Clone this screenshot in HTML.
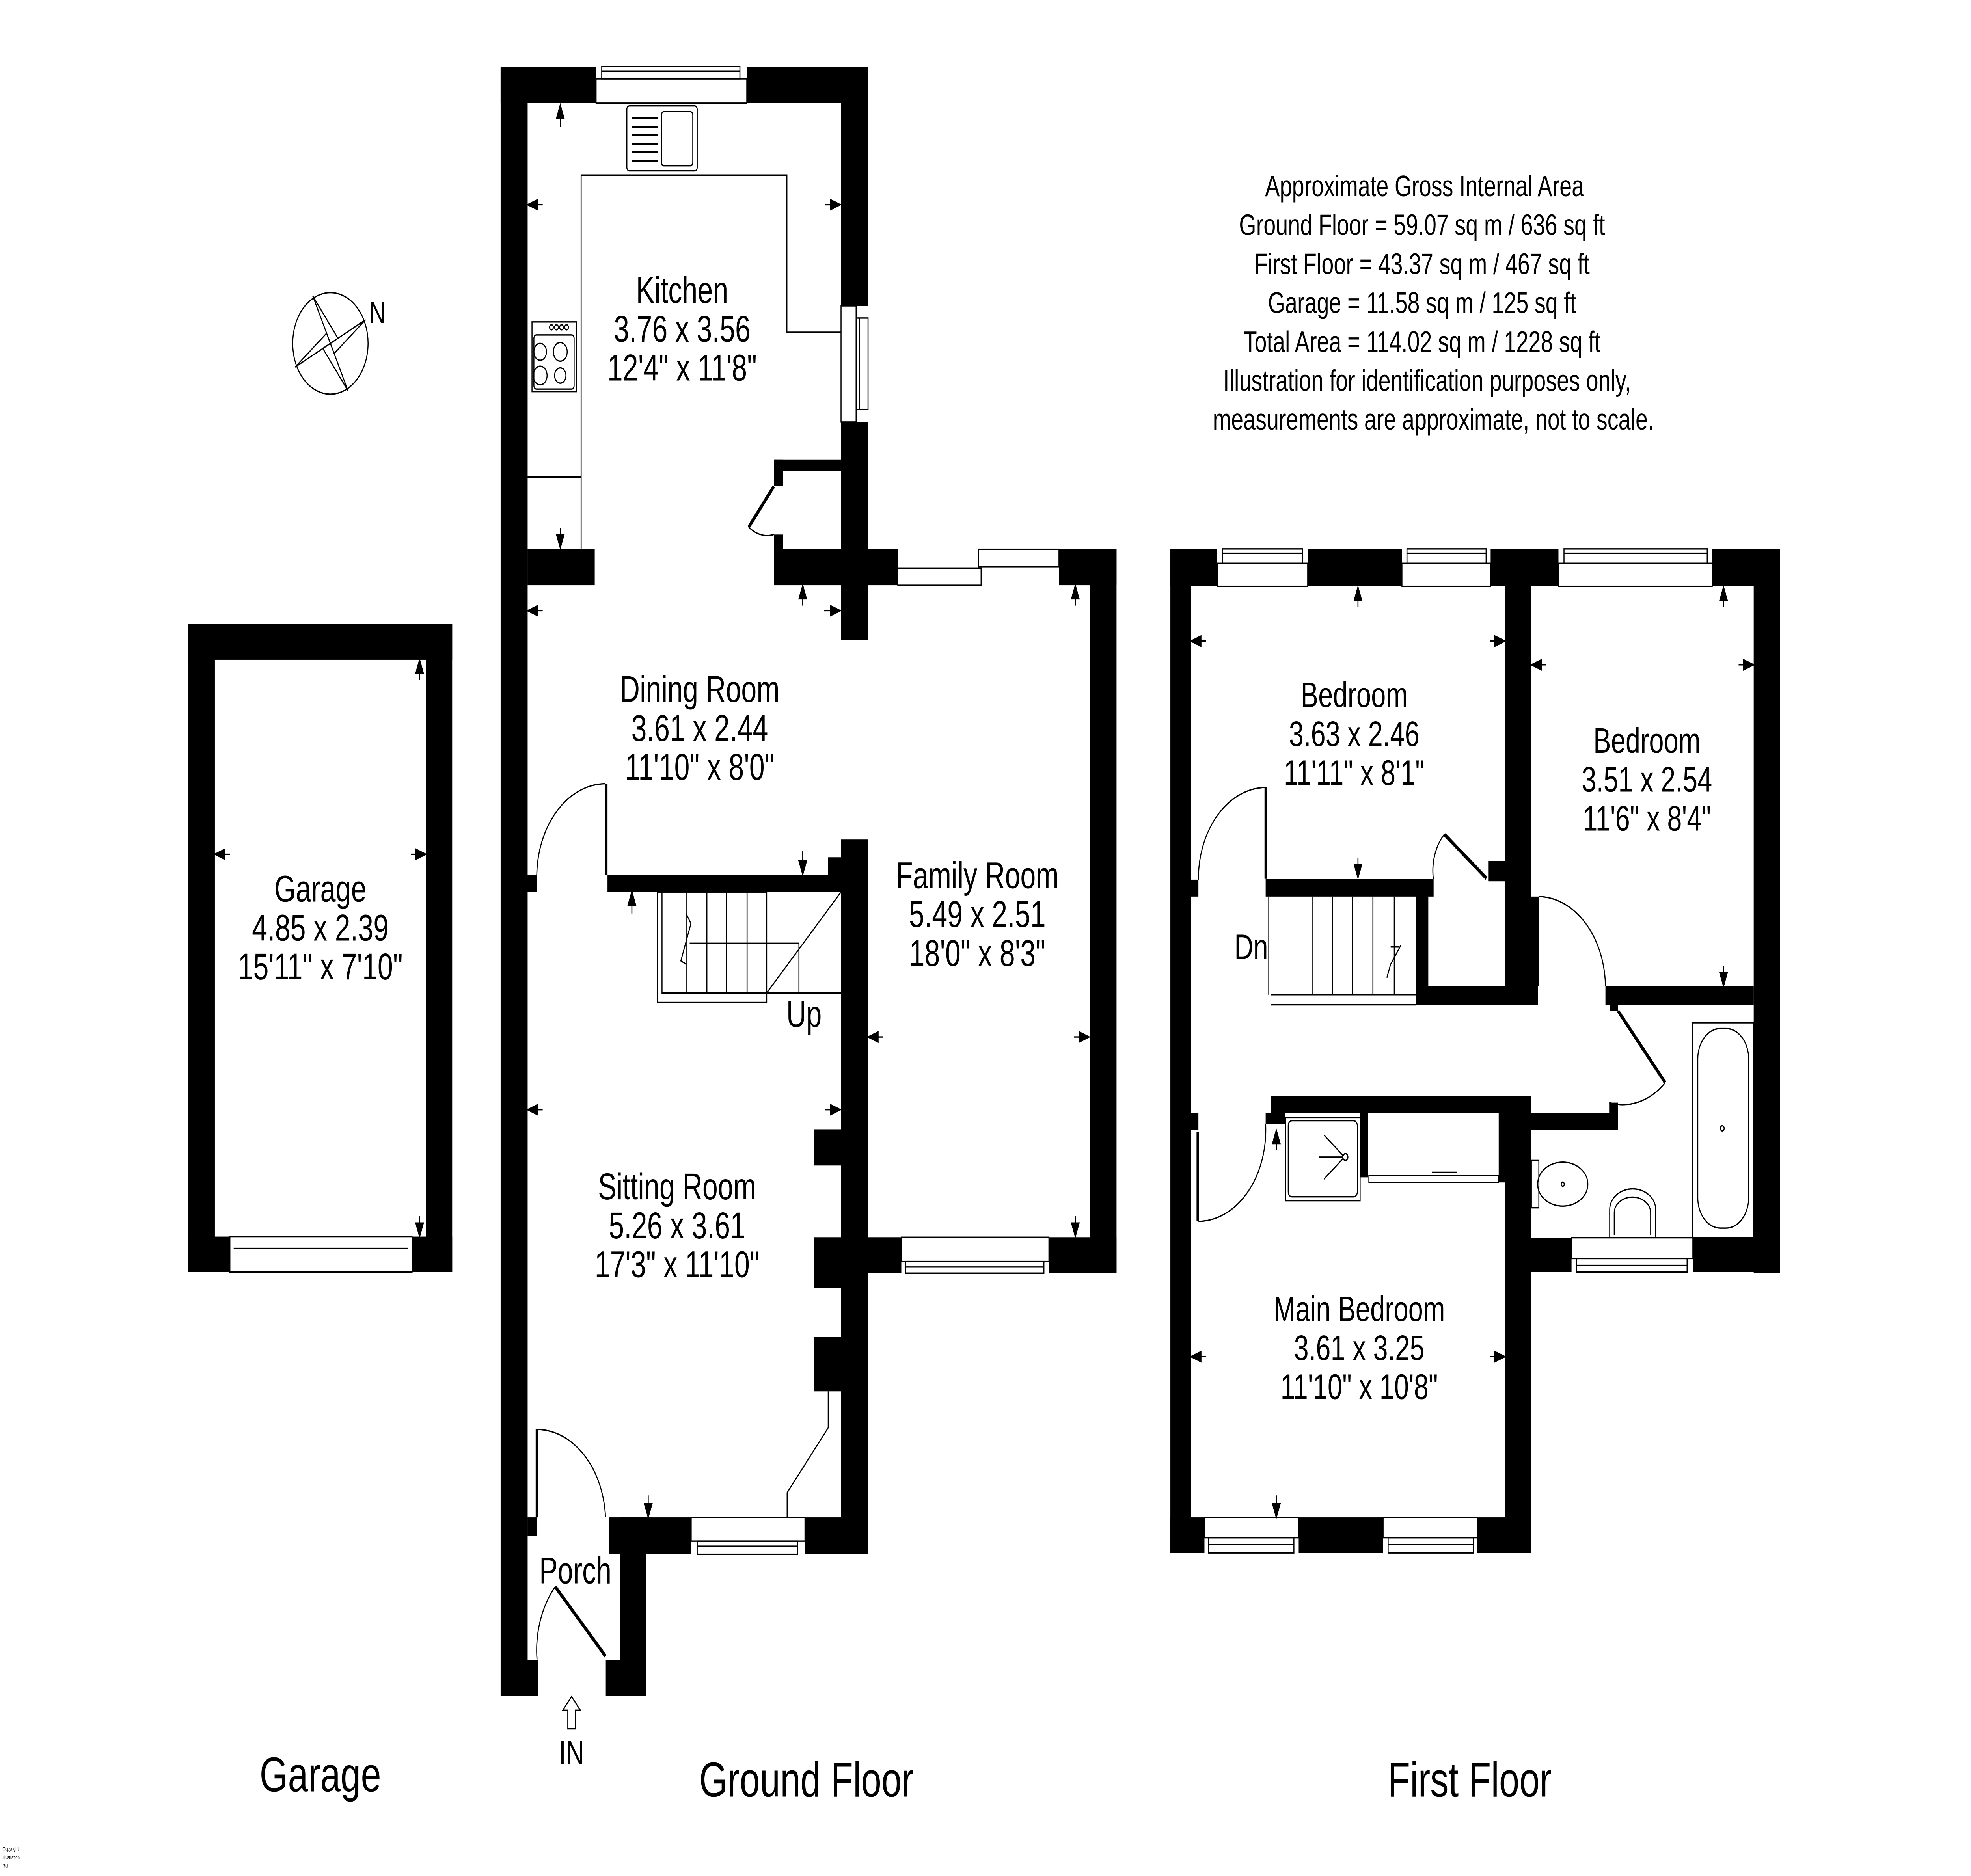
<!DOCTYPE html>
<html><head><meta charset="utf-8"><style>
html,body{margin:0;padding:0;background:#fff;width:100vw;height:100vh;overflow:hidden;}
svg{display:block;position:absolute;left:0;top:0;width:100vw;height:100vh;}
text{font-family:"Liberation Sans",Arial,sans-serif;fill:#000;}
</style></head><body>
<svg viewBox="0 0 1569 1109" preserveAspectRatio="none" xmlns="http://www.w3.org/2000/svg">
<rect x="0" y="0" width="1569" height="1109" fill="#fff"/>
<g fill="#000">
<rect x="150" y="369" width="210" height="21"/>
<rect x="150" y="369" width="21" height="383"/>
<rect x="339" y="369" width="21" height="383"/>
<rect x="150" y="731" width="33" height="21"/>
<rect x="328" y="731" width="32" height="21"/>
<rect x="398.5" y="39.4" width="76" height="21.6"/>
<rect x="594.5" y="39.4" width="96.5" height="21.6"/>
<rect x="398.5" y="39.4" width="21.5" height="963"/>
<rect x="669.5" y="39.4" width="21.5" height="141.4"/>
<rect x="669.5" y="249.5" width="21.5" height="129"/>
<rect x="616" y="271.6" width="53.5" height="7"/>
<rect x="616" y="271.6" width="7.5" height="15.5"/>
<rect x="616" y="316" width="7.5" height="9"/>
<rect x="420" y="324.7" width="53.4" height="21.3"/>
<rect x="616" y="324.7" width="98.7" height="21.3"/>
<rect x="843" y="324.7" width="45.8" height="21.3"/>
<rect x="867.7" y="324.7" width="21.1" height="427.9"/>
<rect x="483.6" y="517" width="186" height="10.3"/>
<rect x="659" y="506.8" width="10.5" height="10.5"/>
<rect x="669.5" y="496.3" width="21.5" height="422.5"/>
<rect x="419.8" y="517" width="7.5" height="10.3"/>
<rect x="481.8" y="463.3" width="1.8" height="54"/>
<rect x="648.2" y="667.6" width="21.5" height="21.4"/>
<rect x="648.2" y="731.4" width="21.5" height="29.9"/>
<rect x="648.2" y="790.4" width="21.5" height="32.1"/>
<rect x="691" y="731.4" width="26.5" height="21.2"/>
<rect x="835" y="731.4" width="53.8" height="21.2"/>
<rect x="484.8" y="897" width="65.4" height="21.8"/>
<rect x="640.8" y="897" width="50.2" height="21.8"/>
<rect x="420" y="897" width="7.5" height="11"/>
<rect x="493.3" y="897" width="21.3" height="105.6"/>
<rect x="398.6" y="981.4" width="30" height="21.2"/>
<rect x="482.2" y="981.4" width="32.4" height="21.2"/>
<rect x="931.7" y="324.5" width="37.3" height="22.1"/>
<rect x="1041" y="324.5" width="75" height="22.1"/>
<rect x="1186.6" y="324.5" width="54" height="22.1"/>
<rect x="1363" y="324.5" width="54" height="22.1"/>
<rect x="931.7" y="324.5" width="16.3" height="593.5"/>
<rect x="1396" y="324.5" width="21" height="428"/>
<rect x="1198" y="324.5" width="21" height="258.5"/>
<rect x="1127.2" y="519.6" width="9.8" height="74.4"/>
<rect x="1127.2" y="583" width="97" height="11"/>
<rect x="1219" y="530" width="6" height="53"/>
<rect x="1278" y="583" width="118" height="11"/>
<rect x="1281.5" y="594" width="6.5" height="3.6"/>
<rect x="1007.5" y="519.6" width="133.7" height="10.4"/>
<rect x="1006.6" y="465.5" width="1.8" height="54"/>
<rect x="1185" y="509" width="13" height="12"/>
<rect x="948" y="520" width="6" height="10"/>
<rect x="948" y="658" width="6" height="10"/>
<rect x="1012" y="647.8" width="207" height="10.2"/>
<rect x="1007.5" y="658" width="15.5" height="6.6"/>
<rect x="1219" y="658" width="69" height="10"/>
<rect x="1281" y="651.8" width="7" height="16.2"/>
<rect x="1198" y="658" width="21" height="260"/>
<rect x="1082.7" y="658" width="6.3" height="38"/>
<rect x="1193" y="658" width="5" height="41"/>
<rect x="1219" y="731.7" width="32" height="20.3"/>
<rect x="1347.6" y="731.7" width="69.4" height="20.3"/>
<rect x="931.7" y="897" width="27.1" height="21"/>
<rect x="1033.8" y="897" width="67.2" height="21"/>
<rect x="1176" y="897" width="43" height="21"/>
<rect x="952.5" y="669" width="1.8" height="53"/>
</g>
<g fill="none" stroke="#000" stroke-width="0.8">
<rect x="183" y="731" width="145" height="21"/><line x1="186" y1="738" x2="325" y2="738"/>
<rect x="474.5" y="46.6" width="120" height="14.4"/><rect x="479" y="39.4" width="110" height="7.2"/><line x1="479" y1="42" x2="589" y2="42"/>
<rect x="669.5" y="180.8" width="12" height="68.7"/><rect x="681.5" y="188" width="9.5" height="54"/><line x1="684" y1="188" x2="684" y2="242"/>
<rect x="714.7" y="335.8" width="66.3" height="10.2"/><rect x="779" y="324.7" width="64" height="10.3"/>
<rect x="717.5" y="731.4" width="117.5" height="14.3"/><rect x="721" y="745.7" width="110" height="6.9"/><line x1="721" y1="749" x2="831" y2="749"/>
<rect x="550.2" y="897" width="90.6" height="14"/><rect x="555" y="911" width="80" height="7.8"/><line x1="555" y1="914" x2="635" y2="914"/>
<rect x="969" y="333" width="72" height="13.6"/><rect x="973" y="324.5" width="64" height="8.5"/><line x1="973" y1="327" x2="1037" y2="327"/>
<rect x="1116" y="333" width="70.6" height="13.6"/><rect x="1120" y="324.5" width="63" height="8.5"/><line x1="1120" y1="327" x2="1183" y2="327"/>
<rect x="1240.6" y="333" width="122.4" height="13.6"/><rect x="1245" y="324.5" width="114" height="8.5"/><line x1="1245" y1="327" x2="1359" y2="327"/>
<rect x="958.8" y="897" width="75" height="12"/><rect x="962" y="909" width="68" height="9"/><line x1="962" y1="913" x2="1030" y2="913"/>
<rect x="1101" y="897" width="75" height="12"/><rect x="1105" y="909" width="68" height="9"/><line x1="1105" y1="913" x2="1173" y2="913"/>
<rect x="1251" y="731.7" width="96.6" height="12.3"/><rect x="1255" y="744" width="88" height="8"/><line x1="1255" y1="748" x2="1343" y2="748"/>
<polyline points="462.6,324.7 462.6,103.5 626.4,103.5 626.4,196.4 669.5,196.4"/>
<line x1="420" y1="282" x2="462.6" y2="282"/>
<rect x="499" y="62.6" width="56" height="38.4" rx="2"/>
<rect x="526.5" y="66" width="25" height="32" rx="2"/>
<g stroke-width="1.2"><line x1="503" y1="70" x2="524" y2="70"/><line x1="503" y1="75" x2="524" y2="75"/><line x1="503" y1="80" x2="524" y2="80"/><line x1="503" y1="85" x2="524" y2="85"/><line x1="503" y1="90" x2="524" y2="90"/><line x1="503" y1="95" x2="524" y2="95"/></g>
<rect x="423.5" y="190.3" width="35.4" height="41.2"/>
<rect x="425" y="198" width="32" height="32" rx="2"/>
<circle cx="430" cy="208" r="5"/><circle cx="446" cy="208" r="5.5"/><circle cx="430" cy="222" r="5.5"/><circle cx="446" cy="222" r="4.5"/>
<circle cx="439" cy="193.5" r="1.5"/><circle cx="443" cy="193.5" r="1.5"/><circle cx="447" cy="193.5" r="1.5"/><circle cx="451" cy="193.5" r="1.5"/>
<path d="M616,316 A24,24 0 0 1 596,311.6"/>
<path d="M427.3,517 A55,55 0 0 1 482,463.3"/>
<path d="M427.5,845 A55,55 0 0 1 482,897"/>
<path d="M427.5,981 A55,55 0 0 1 442,938"/>
<path d="M954,520 A54,54 0 0 1 1007.5,465.5"/>
<path d="M1141,519.6 A30,30 0 0 1 1150,493"/>
<path d="M1225,530 A54,54 0 0 1 1278,583"/>
<path d="M1325.6,640 A50,50 0 0 1 1281,651.8"/>
<path d="M954,722 A54,54 0 0 0 1007.5,664.6"/>
<rect x="523.4" y="527.3" width="86.9" height="65.3"/>
<polyline points="527,527.3 527,587 669.5,587"/>
<line x1="546.2" y1="527.3" x2="546.2" y2="587"/><line x1="562.7" y1="527.3" x2="562.7" y2="587"/>
<line x1="578.4" y1="527.3" x2="578.4" y2="587"/><line x1="594.7" y1="527.3" x2="594.7" y2="587"/>
<line x1="669.5" y1="527.3" x2="610.3" y2="587"/><line x1="549" y1="557.6" x2="636" y2="557.6"/><line x1="636" y1="557.6" x2="636" y2="587"/>
<polyline points="546.2,540 550,546 542,568 546.2,570"/>
<polyline points="659.3,822.5 659.3,844 626.6,882.4 626.6,897"/>
<line x1="1012" y1="588" x2="1127" y2="588"/><line x1="1012" y1="594" x2="1127" y2="594"/>
<line x1="1044.5" y1="530" x2="1044.5" y2="588"/><line x1="1060.8" y1="530" x2="1060.8" y2="588"/>
<line x1="1076.6" y1="530" x2="1076.6" y2="588"/><line x1="1092.9" y1="530" x2="1092.9" y2="588"/>
<line x1="1109.9" y1="530" x2="1109.9" y2="588"/><line x1="1010" y1="530" x2="1010" y2="588"/>
<polyline points="1115,559 1107,570 1104,578"/>
<rect x="1347.5" y="604.6" width="48.5" height="127" />
<rect x="1351.5" y="608" width="40.5" height="118" rx="18"/>
<circle cx="1371" cy="667" r="1.5"/>
<rect x="1219" y="686" width="6" height="28"/>
<ellipse cx="1244" cy="700" rx="20" ry="13"/><circle cx="1244" cy="700" r="1.2"/>
<path d="M1281.4,731.7 L1281.4,715 A18,12 0 0 1 1318,715 L1318,731.7"/>
<path d="M1285,730 L1285,717 A14,9 0 0 1 1314,717 L1314,730"/>
<rect x="1023.3" y="660.6" width="59.4" height="49.2"/>
<rect x="1025.5" y="662.5" width="55" height="45" rx="3"/>
<circle cx="1071" cy="684" r="2"/>
<line x1="1069" y1="684" x2="1050" y2="684"/><line x1="1069" y1="683" x2="1054" y2="671"/><line x1="1069" y1="685" x2="1054" y2="697"/>
<rect x="1089.7" y="695" width="103" height="4"/>
<line x1="1140" y1="693" x2="1160" y2="693"/>
</g>
<g stroke="#000" stroke-width="2.2" fill="none">
<line x1="616" y1="287.5" x2="596" y2="311.6"/>
<line x1="1150" y1="493.4" x2="1183.3" y2="519.2"/>
<line x1="1288" y1="597.6" x2="1325.6" y2="640"/>
<line x1="442" y1="938" x2="482" y2="979"/>
<line x1="427.5" y1="845" x2="427.5" y2="897"/>
</g>
<g stroke="#000" stroke-width="0.8" fill="#000">
<line x1="446" y1="62" x2="446" y2="75"/><path d="M443,70 L446,62 L449,70Z"/>
<line x1="420" y1="121" x2="432" y2="121"/><path d="M428,118 L420,121 L428,124Z"/>
<line x1="657" y1="121" x2="669" y2="121"/><path d="M661,118 L669,121 L661,124Z"/>
<line x1="446" y1="312" x2="446" y2="324"/><path d="M443,316 L446,324 L449,316Z"/>
<line x1="420" y1="361" x2="432" y2="361"/><path d="M428,358 L420,361 L428,364Z"/>
<line x1="639" y1="346" x2="639" y2="358"/><path d="M636,354 L639,346 L642,354Z"/>
<line x1="656" y1="361" x2="669" y2="361"/><path d="M661,358 L669,361 L661,364Z"/>
<line x1="856" y1="346" x2="856" y2="358"/><path d="M853,354 L856,346 L859,354Z"/>
<line x1="639" y1="503" x2="639" y2="517"/><path d="M636,509 L639,517 L642,509Z"/>
<line x1="503" y1="527" x2="503" y2="540"/><path d="M500,535 L503,527 L506,535Z"/>
<line x1="691" y1="613" x2="703" y2="613"/><path d="M699,610 L691,613 L699,616Z"/>
<line x1="855" y1="613" x2="867" y2="613"/><path d="M859,610 L867,613 L859,616Z"/>
<line x1="420" y1="656" x2="432" y2="656"/><path d="M428,653 L420,656 L428,659Z"/>
<line x1="657" y1="656" x2="669" y2="656"/><path d="M661,653 L669,656 L661,659Z"/>
<line x1="856" y1="719" x2="856" y2="731"/><path d="M853,723 L856,731 L859,723Z"/>
<line x1="516" y1="884" x2="516" y2="897"/><path d="M513,889 L516,897 L519,889Z"/>
<line x1="334" y1="390" x2="334" y2="402"/><path d="M331,398 L334,390 L337,398Z"/>
<line x1="171" y1="505" x2="183" y2="505"/><path d="M179,502 L171,505 L179,508Z"/>
<line x1="327" y1="505" x2="339" y2="505"/><path d="M331,502 L339,505 L331,508Z"/>
<line x1="334" y1="719" x2="334" y2="731"/><path d="M331,723 L334,731 L337,723Z"/>
<line x1="1081" y1="347" x2="1081" y2="359"/><path d="M1078,355 L1081,347 L1084,355Z"/>
<line x1="948" y1="379" x2="960" y2="379"/><path d="M956,376 L948,379 L956,382Z"/>
<line x1="1186" y1="379" x2="1198" y2="379"/><path d="M1190,376 L1198,379 L1190,382Z"/>
<line x1="1081" y1="507" x2="1081" y2="519"/><path d="M1078,511 L1081,519 L1084,511Z"/>
<line x1="1372" y1="347" x2="1372" y2="359"/><path d="M1369,355 L1372,347 L1375,355Z"/>
<line x1="1219" y1="393" x2="1231" y2="393"/><path d="M1227,390 L1219,393 L1227,396Z"/>
<line x1="1384" y1="393" x2="1396" y2="393"/><path d="M1388,390 L1396,393 L1388,396Z"/>
<line x1="1372" y1="571" x2="1372" y2="583"/><path d="M1369,575 L1372,583 L1375,575Z"/>
<line x1="1016" y1="668" x2="1016" y2="680"/><path d="M1013,676 L1016,668 L1019,676Z"/>
<line x1="948" y1="802" x2="960" y2="802"/><path d="M956,799 L948,802 L956,805Z"/>
<line x1="1186" y1="802" x2="1198" y2="802"/><path d="M1190,799 L1198,802 L1190,805Z"/>
<line x1="1016" y1="884" x2="1016" y2="897"/><path d="M1013,889 L1016,897 L1019,889Z"/>
<line x1="1107" y1="559.8" x2="1114" y2="559.8"/>
</g>
<path d="M455,1003 L462,1011 L458,1011 L458,1022 L452,1022 L452,1011 L448,1011 Z" fill="none" stroke="#000" stroke-width="0.8"/>
<g transform="translate(263,203)">
<circle r="30" fill="none" stroke="#000" stroke-width="0.8"/>
<path d="M0,0 L28,-14 L6,-3Z M0,0 L-28,14 L-6,3Z M0,0 L-14,-28 L-3,-6Z M0,0 L14,28 L3,6Z" fill="#000"/>
<path d="M0,0 L28,-14 L3,6Z M0,0 L-28,14 L-3,-6Z M0,0 L-14,-28 L6,-3Z M0,0 L14,28 L-6,3Z" fill="none" stroke="#000" stroke-width="0.8"/>
</g>
<text x="294" y="191" font-size="18">N</text>
<g font-size="22" text-anchor="middle">
<text x="543" y="179">Kitchen</text><text x="543" y="202">3.76 x 3.56</text><text x="543" y="225">12'4" x 11'8"</text>
<text x="557" y="415">Dining Room</text><text x="557" y="438">3.61 x 2.44</text><text x="557" y="461">11'10" x 8'0"</text>
<text x="778" y="525">Family Room</text><text x="778" y="548">5.49 x 2.51</text><text x="778" y="571">18'0" x 8'3"</text>
<text x="539" y="709">Sitting Room</text><text x="539" y="732">5.26 x 3.61</text><text x="539" y="755">17'3" x 11'10"</text>
<text x="255" y="533">Garage</text><text x="255" y="556">4.85 x 2.39</text><text x="255" y="579">15'11" x 7'10"</text>
<text x="458" y="936">Porch</text>
<text x="640" y="607">Up</text>
<text x="455" y="1043" font-size="20">IN</text>
<text x="1078" y="418" font-size="21">Bedroom</text><text x="1078" y="441" font-size="21">3.63 x 2.46</text><text x="1078" y="464" font-size="21">11'11" x 8'1"</text>
<text x="1311" y="445" font-size="21">Bedroom</text><text x="1311" y="468" font-size="21">3.51 x 2.54</text><text x="1311" y="491" font-size="21">11'6" x 8'4"</text>
<text x="996" y="567" font-size="21">Dn</text>
<text x="1082" y="781" font-size="21">Main Bedroom</text><text x="1082" y="804" font-size="21">3.61 x 3.25</text><text x="1082" y="827" font-size="21">11'10" x 10'8"</text>
</g>
<g font-size="17.5" text-anchor="middle">
<text x="1134" y="116">Approximate Gross Internal Area</text>
<text x="1132" y="139">Ground Floor = 59.07 sq m / 636 sq ft</text>
<text x="1132" y="162">First Floor = 43.37 sq m / 467 sq ft</text>
<text x="1132" y="185">Garage = 11.58 sq m / 125 sq ft</text>
<text x="1132" y="208">Total Area = 114.02 sq m / 1228 sq ft</text>
<text x="1136" y="231">Illustration for identification purposes only,</text>
<text x="1141" y="254">measurements are approximate, not to scale.</text>
</g>
<g font-size="29" text-anchor="middle">
<text x="255" y="1059">Garage</text>
<text x="642" y="1062">Ground Floor</text>
<text x="1170" y="1062">First Floor</text>
</g>
<text x="2" y="1094" font-size="3">Copyright</text>
<text x="2" y="1099" font-size="3">Illustration</text>
<text x="2" y="1104" font-size="3">Ref</text>
</svg>
</body></html>
